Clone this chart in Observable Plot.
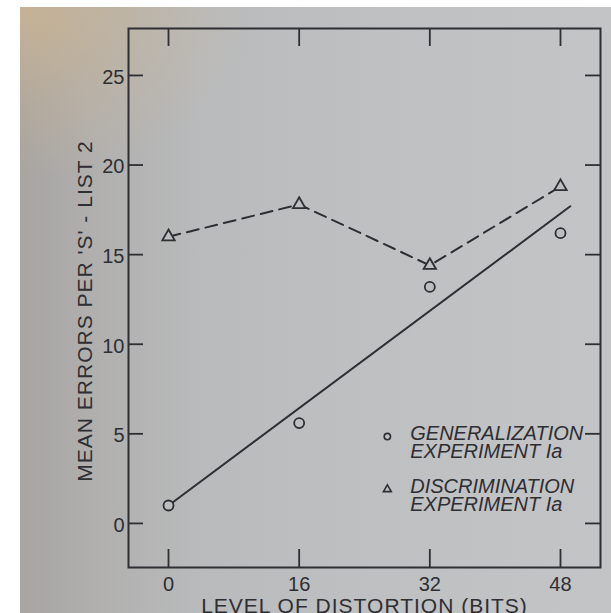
<!DOCTYPE html>
<html>
<head>
<meta charset="utf-8">
<script src="https://cdn.jsdelivr.net/npm/d3@7"></script>
<script src="https://cdn.jsdelivr.net/npm/@observablehq/plot@0.6"></script>
<style>
  html, body { margin: 0; padding: 0; background: #ffffff; width: 611px; height: 613px; overflow: hidden; }
  #chart {
    position: absolute; left: 20px; top: 7px; width: 591px; height: 606px; overflow: hidden;
    background:
      radial-gradient(ellipse 230px 170px at 0% 0%, rgba(206,182,145,0.8) 0%, rgba(206,182,145,0.3) 55%, rgba(206,182,145,0) 100%),
      linear-gradient(90deg, #a7a4a1 0%, #b0afae 12%, #b9babb 30%, #bdbfc1 55%, #c0c2c4 80%, #c2c4c6 100%);
  }
  #chart svg { display: block; background: transparent !important; }
</style>
</head>
<body>
<div id="chart"></div>
<script>
// ---- data ----
const distortion = [0, 16, 32, 48];                 // level of distortion (bits)
const generalization = [1.0, 5.6, 13.2, 16.2];       // circles, Experiment Ia
const discrimination = [16.0, 17.8, 14.4, 18.8];     // triangles, Experiment Ia
const fitX = [0, 49.2];                              // fitted straight line (ends)
const fitY = [1.0, 17.7];
const xTicks = [0, 16, 32, 48];
const yTicks = [0, 5, 10, 15, 20, 25];
const xTitle = "LEVEL OF DISTORTION (BITS)";
const yTitle = "MEAN ERRORS PER 'S' - LIST 2";
const legendLabels = ["GENERALIZATION\nEXPERIMENT Ia", "DISCRIMINATION\nEXPERIMENT Ia"];
const legendSymbols = ["circle", "triangle"];

// ---- layout / style ----
const ink = "#2e2e33";
const paper = "#bcbec0";
const font = "'Liberation Sans', Arial, 'DejaVu Sans', sans-serif";
const xDom = [-4.9, 52.9];
const yDom = [-2.46, 27.62];
const W = 591, H = 606, mL = 108, mR = 11, mT = 21, mB = 46;
const pxPerX = (W - mL - mR) / (xDom[1] - xDom[0]);
const pxPerY = (H - mT - mB) / (yDom[1] - yDom[0]);
const tickX = 15 / pxPerX;   // horizontal inward tick length in data units
const tickY = 18 / pxPerY;   // vertical inward tick length in data units

const gen = distortion.map((x, i) => ({x, y: generalization[i]}));
const dis = distortion.map((x, i) => ({x, y: discrimination[i]}));
const fit = fitX.map((x, i) => ({x, y: fitY[i]}));
const legendX = 26.8, legendTextX = 29.6, legendY = [4.85, 1.9];
const legend = legendLabels.map((label, i) => ({label, symbol: legendSymbols[i], y: legendY[i]}));

const chart = Plot.plot({
  width: W, height: H,
  marginLeft: mL, marginRight: mR, marginTop: mT, marginBottom: mB,
  x: {domain: xDom},
  y: {domain: yDom},
  style: {fontFamily: font, color: ink, overflow: "visible"},
  marks: [
    // inward ticks
    Plot.ruleY(yTicks, {y: d => d, x1: xDom[0], x2: xDom[0] + tickX, stroke: ink, strokeWidth: 1.8}),
    Plot.ruleY(yTicks, {y: d => d, x1: xDom[1] - tickX, x2: xDom[1], stroke: ink, strokeWidth: 1.8}),
    Plot.ruleX(xTicks, {x: d => d, y1: yDom[0], y2: yDom[0] + tickY, stroke: ink, strokeWidth: 1.8}),
    Plot.ruleX(xTicks, {x: d => d, y1: yDom[1] - tickY, y2: yDom[1], stroke: ink, strokeWidth: 1.8}),
    Plot.frame({stroke: ink, strokeWidth: 2}),
    Plot.axisY({ticks: yTicks, anchor: "left", tickSize: 0, tickPadding: 4, fontSize: 20, label: null, dy: 2, fill: ink}),
    Plot.axisX({ticks: xTicks, anchor: "bottom", tickSize: 0, tickPadding: 9, fontSize: 20, label: null, fill: ink}),
    Plot.text([xTitle], {frameAnchor: "bottom", dy: 31, lineAnchor: "top", textAnchor: "middle", fontSize: 21, fill: ink}),
    Plot.text([yTitle], {frameAnchor: "left", rotate: -90, dx: -43, dy: 13, textAnchor: "middle", lineAnchor: "middle", fontSize: 21, fill: ink}),
    // data
    Plot.line(dis, {x: "x", y: "y", stroke: ink, strokeWidth: 2, strokeDasharray: "12,7"}),
    Plot.line(fit, {x: "x", y: "y", stroke: ink, strokeWidth: 2}),
    Plot.dot(dis, {x: "x", y: "y", symbol: "triangle", r: 4.6, stroke: ink, strokeWidth: 1.8, fill: paper}),
    Plot.dot(gen, {x: "x", y: "y", symbol: "circle", r: 5, stroke: ink, strokeWidth: 1.8, fill: paper}),
    // legend
    Plot.dot(legend, {x: () => legendX, y: "y", symbol: "symbol", r: d => d.symbol === "circle" ? 3.6 : 3.1, stroke: ink, strokeWidth: 1.6, fill: "none"}),
    Plot.text(legend, {x: () => legendTextX, y: "y", text: "label", textAnchor: "start", lineAnchor: "top", dy: -9, lineHeight: 0.9, fontSize: 20, fontStyle: "italic", fill: ink})
  ]
});
document.getElementById("chart").appendChild(chart);
d3.select(chart).selectAll("text")
  .filter(function () { return this.textContent === xTitle || this.textContent === yTitle; })
  .style("letter-spacing", "1px");
</script>
</body>
</html>
